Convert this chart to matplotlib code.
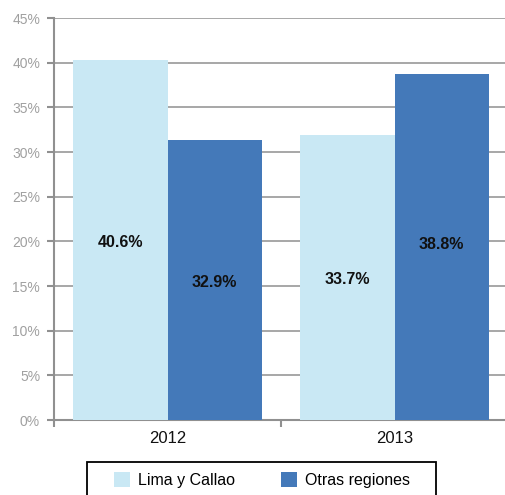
import matplotlib
matplotlib.use("Agg")
import matplotlib.pyplot as plt
from matplotlib.patches import Rectangle
import numpy as np

plt.rcParams['font.family'] = ['Liberation Sans', 'DejaVu Sans']

categories = ["2012", "2013"]
series_names = ["Lima y Callao", "Otras regiones"]
lima = [40.3, 31.9]
otras = [31.35, 38.7]
lima_labels = ["40.6%", "33.7%"]
otras_labels = ["32.9%", "38.8%"]
label_y_lima = [19.9, 15.7]
label_y_otras = [15.4, 19.6]
yticks = [0, 5, 10, 15, 20, 25, 30, 35, 40, 45]

fig = plt.figure(figsize=(5.05, 4.95), dpi=100)
ax = fig.add_axes([54/505, 75/495, 451/505, 402/495])

x = np.arange(len(categories))
w = 0.416
ax.bar(x - w/2, lima, width=w, color="#c9e8f4", zorder=3, label=series_names[0])
ax.bar(x + w/2, otras, width=w, color="#4479b9", zorder=3, label=series_names[1])

for i in range(len(categories)):
    ax.text(x[i] - w/2, label_y_lima[i], lima_labels[i], ha="center", va="center",
            fontsize=11.5, fontweight="bold", color="#111111", zorder=4)
    ax.text(x[i] + w/2, label_y_otras[i], otras_labels[i], ha="center", va="center",
            fontsize=11.5, fontweight="bold", color="#111111", zorder=4)

ax.set_xlim(-0.5, -0.5 + 451/227)
ax.set_ylim(0, 45)
ax.set_yticks(yticks)
ax.set_yticklabels([f"{t}%" for t in yticks])
ax.yaxis.grid(True, color="#a0a0a0", linewidth=1.3, zorder=0)
ax.set_axisbelow(True)

ax.set_xticks(x)
ax.set_xticklabels(categories)
ax.set_xticks([-0.5, 0.5], minor=True)
ax.tick_params(axis="x", which="major", length=0, pad=8, labelsize=12, labelcolor="#111111")
ax.tick_params(axis="x", which="minor", length=5, color="#909090", width=1.5, direction="out")
ax.tick_params(axis="y", length=5, color="#909090", width=1.5, pad=5, labelsize=10,
               labelcolor="#a0a0a0")

for s in ["top", "right"]:
    ax.spines[s].set_visible(False)
for s in ["left", "bottom"]:
    ax.spines[s].set_color("#909090")
    ax.spines[s].set_linewidth(1.5)

# legend frame
fig.patches.append(Rectangle((87/505, -0.05), (436-87)/505, 0.05 + 1 - 462/495,
                             transform=fig.transFigure, facecolor="white",
                             edgecolor="black", linewidth=1.3, zorder=1))

leg = fig.legend(loc="center left", bbox_to_anchor=(114/505, 1 - 480/495), ncol=2,
                 fontsize=11.5, frameon=False, handlelength=1.0, handleheight=1.1,
                 columnspacing=2.9, borderpad=0, borderaxespad=0, handletextpad=0.5)
leg.set_zorder(2)

fig.savefig("out.png", dpi=100)
